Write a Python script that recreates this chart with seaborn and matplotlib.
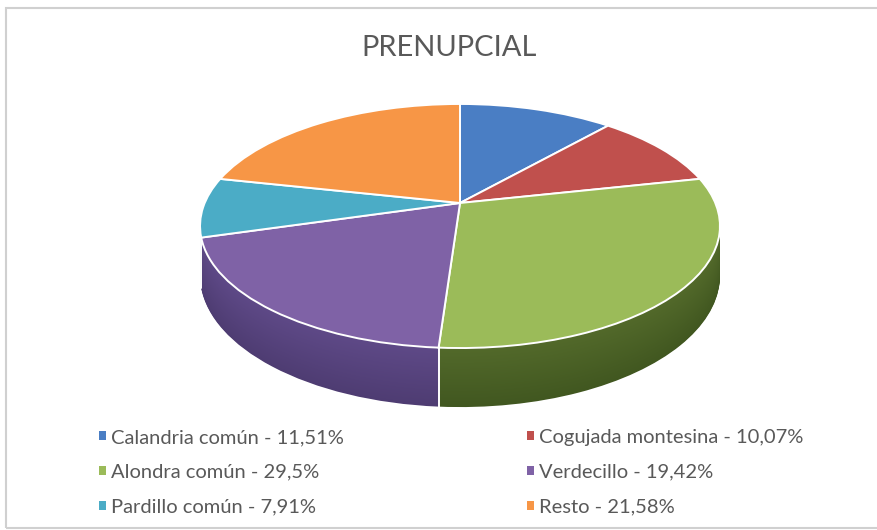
import matplotlib
matplotlib.use("Agg")
import matplotlib.pyplot as plt
import seaborn as sns
import numpy as np
from matplotlib.patches import Rectangle
from matplotlib.transforms import Transform
from matplotlib.path import Path
from matplotlib.colors import to_rgb

sns.set_theme(style="white")
plt.rcParams['font.family'] = ['Lato', 'DejaVu Sans']

categories = ["Calandria común", "Cogujada montesina", "Alondra común",
              "Verdecillo", "Pardillo común", "Resto"]
values = [11.51, 10.07, 29.5, 19.42, 7.91, 21.58]
value_labels = ["11,51%", "10,07%", "29,5%", "19,42%", "7,91%", "21,58%"]
top_colors = ["#4a7ec4", "#c0504d", "#9bbb59", "#7f62a6", "#4bacc6", "#f79646"]
side_dark = ["#2f5588", "#843633", "#415720", "#4e3c72", "#2f7a8e", "#b0672c"]
side_light = ["#3d6aa6", "#9c4340", "#52692a", "#5e4987", "#3b93aa", "#d07e3a"]

W, H = 878, 530

# perspective geometry (pixel units, y measured from the top)
CX, CY = 460.0, 203.0      # apex of the pie
A, B, K = 255.3, 117.7, 0.1885
D = 47.9                   # thickness


class Perspective(Transform):
    input_dims = 2
    output_dims = 2
    is_separable = False
    has_inverse = False

    def __init__(self, drop=0.0):
        super().__init__()
        self.drop = drop

    def transform_non_affine(self, values):
        values = np.asarray(values, dtype=float)
        u, v = values[:, 0], values[:, 1]
        w = 1.0 + K * v
        x = CX + A * u / w
        y = CY + (-B * v + self.drop) / w
        return np.column_stack([x, y])

    def transform_path_non_affine(self, path):
        return Path._fast_from_codes_and_verts(
            self.transform_non_affine(path.vertices), path.codes, path)


fig = plt.figure(figsize=(W / 100, H / 100), dpi=100)
ax = fig.add_axes([0, 0, 1, 1])

# side walls: stacked pies from bottom to top
n_layers = 70
for i in range(n_layers):
    f = i / (n_layers - 1)
    drop = D * (1 - i / n_layers)
    cols = [tuple(np.array(to_rgb(d)) * (1 - f) + np.array(to_rgb(l)) * f)
            for d, l in zip(side_dark, side_light)]
    ws, _ = ax.pie(values, colors=cols, startangle=90, counterclock=False,
                   radius=1, frame=True,
                   wedgeprops=dict(linewidth=0, edgecolor="none"))
    tr = Perspective(drop) + ax.transData
    for wdg in ws:
        wdg.set_transform(tr)

# top face
wedges, _ = ax.pie(values, colors=top_colors, startangle=90, counterclock=False,
                   radius=1, frame=True,
                   wedgeprops=dict(linewidth=1.4, edgecolor="white"))
top_tr = Perspective(0.0) + ax.transData
for wdg in wedges:
    wdg.set_transform(top_tr)

# white seams on the visible front wall
cum = np.cumsum(values) / 100.0
p_top, p_bot = Perspective(0.0), Perspective(D)
for c in cum[:-1]:
    ang = np.deg2rad(90 - 360 * c)
    pt = np.array([[np.cos(ang), np.sin(ang)]])
    if pt[0, 1] < -K:
        a = p_top.transform_non_affine(pt)[0]
        b = p_bot.transform_non_affine(pt)[0]
        ax.plot([a[0], b[0]], [a[1], b[1]], color="white", lw=1.4)

ax.set_aspect("auto")
ax.set_xlim(0, W)
ax.set_ylim(H, 0)
ax.axis("off")

fig.text(449 / W, 1 - 48 / H, "PRENUPCIAL", ha="center", va="center",
         fontsize=21, color="#595959")

labels = [f"{c} - {v}" for c, v in zip(categories, value_labels)]
common = dict(frameon=False, fontsize=14.5, handlelength=0.33, handleheight=0.33,
              handletextpad=0.25, labelspacing=0.88, labelcolor="#595959",
              borderpad=0, borderaxespad=0)
leg1 = fig.legend([wedges[0], wedges[2], wedges[4]],
                  [labels[0], labels[2], labels[4]],
                  loc="upper left", bbox_to_anchor=(99 / W, 1 - 429 / H), **common)
leg2 = fig.legend([wedges[1], wedges[3], wedges[5]],
                  [labels[1], labels[3], labels[5]],
                  loc="upper left", bbox_to_anchor=(527 / W, 1 - 429 / H), **common)
for leg in (leg1, leg2):
    for h in leg.legend_handles:
        h.set_linewidth(0)

fig.patches.append(Rectangle((6 / W, 2 / H), (W + 10) / W, (H - 10) / H,
                             transform=fig.transFigure, fill=False,
                             edgecolor="#d0d0d0", linewidth=1.5))

fig.savefig("out.png", dpi=100)
